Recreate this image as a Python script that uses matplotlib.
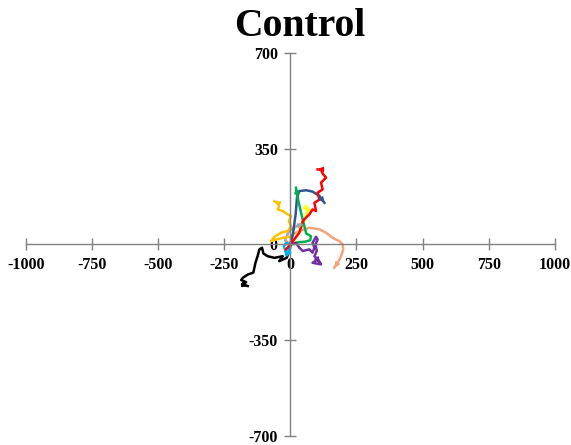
import matplotlib.pyplot as plt

plt.rcParams['axes.unicode_minus'] = False

# Trayectorias (x, y)
rojo_x = [-16, 0, 34, 47, 59, 72, 84, 97, 91, 110, 103, 122, 116, 135, 122, 116, 103]
rojo_y = [-18, 0, 43, 85, 98, 110, 128, 122, 152, 164, 189, 201, 226, 244, 259, 274, 274]

azul_x = [0, 10, 20, 25, 34, 60, 84, 110, 129]
azul_y = [0, 40, 110, 170, 195, 198, 193, 177, 152]

verde_x = [0, 30, 55, 75, 78, 60, 53, 42, 30, 21]
verde_y = [0, 8, 10, 15, 30, 40, 67, 110, 160, 207]

amarillo_x = [10, 25, 40, 49, 58, 65, 72]
amarillo_y = [10, 35, 60, 79, 100, 130, 125]

dorado_x = [-4, -29, -60, -73, -60, -35, -10, 3, -6, 3, -10, -29, -48, -42, -48, -60]
dorado_y = [28, 24, 16, 12, 28, 43, 49, 67, 85, 103, 110, 122, 128, 140, 152, 158]

salmon_x = [0, 9, 34, 72, 110, 135, 160, 185, 198, 200, 192, 179, 166]
salmon_y = [0, 37, 49, 61, 55, 43, 24, 12, 0, -18, -43, -67, -85]

morado_x = [0, 21, 34, 47, 72, 84, 91, 84, 97, 103, 95, 100, 91, 103, 84, 116, 103, 112]
morado_y = [0, 6, -12, -24, -18, -30, -12, 6, 28, 18, 0, -24, -43, -55, -67, -73, -55, -67]

negro_x = [0, -6, -14, -42, -29, -60, -86, -102, -107, -117, -124, -132, -140, -161, -180, -186, -167, -183, -161]
negro_y = [0, -30, -49, -61, -43, -49, -43, -33, -12, -18, -43, -67, -103, -110, -122, -130, -138, -146, -152]

cian_x = [0, -15, -25, -20, -15, -8, 0]
cian_y = [0, 5, -5, -20, -40, -35, -10]

gris_x = [0, -20, -5, 20, 50]
gris_y = [0, 15, 50, 65, 75]

series = [
    (salmon_x, salmon_y, '#F4A47C'),
    (gris_x, gris_y, '#A5A5A5'),
    (amarillo_x, amarillo_y, '#FFFF00'),
    (dorado_x, dorado_y, '#FFC000'),
    (azul_x, azul_y, '#2F5597'),
    (verde_x, verde_y, '#00B050'),
    (morado_x, morado_y, '#7030A0'),
    (negro_x, negro_y, '#000000'),
    (cian_x, cian_y, '#00B0F0'),
    (rojo_x, rojo_y, '#FF0000'),
]

fig = plt.figure(figsize=(5.71, 4.45), dpi=100)
ax = fig.add_axes([0.0455, 0.0202, 0.926, 0.861])

for xs, ys, color in series:
    ax.plot(xs, ys, color=color, linewidth=1.8)
    # Flecha al final de la trayectoria
    ax.annotate('', xy=(xs[-1], ys[-1]), xytext=(xs[-2], ys[-2]),
                arrowprops=dict(arrowstyle='-|>', color=color, lw=1.2,
                                mutation_scale=7, shrinkA=0, shrinkB=0))

ax.set_xlim(-1000, 1000)
ax.set_ylim(-700, 700)
ax.set_xticks([-1000, -750, -500, -250, 0, 250, 500, 750, 1000])
ax.set_yticks([-700, -350, 0, 350, 700])

# Ejes cruzando en el origen
ax.spines['left'].set_position(('data', 0))
ax.spines['bottom'].set_position(('data', 0))
ax.spines['right'].set_visible(False)
ax.spines['top'].set_visible(False)
for s in ['left', 'bottom']:
    ax.spines[s].set_color('#808080')
    ax.spines[s].set_linewidth(1)

ax.tick_params(direction='inout', length=8, width=1, color='#808080',
               labelsize=11.5, pad=5)
for lbl in ax.get_xticklabels() + ax.get_yticklabels():
    lbl.set_fontfamily('Liberation Serif')
    lbl.set_fontweight('bold')

fig.text(0.525, 0.94, 'Control', ha='center', va='center', fontsize=28.5,
         fontweight='bold', fontfamily='Liberation Serif')

fig.savefig('out.png', dpi=100)
